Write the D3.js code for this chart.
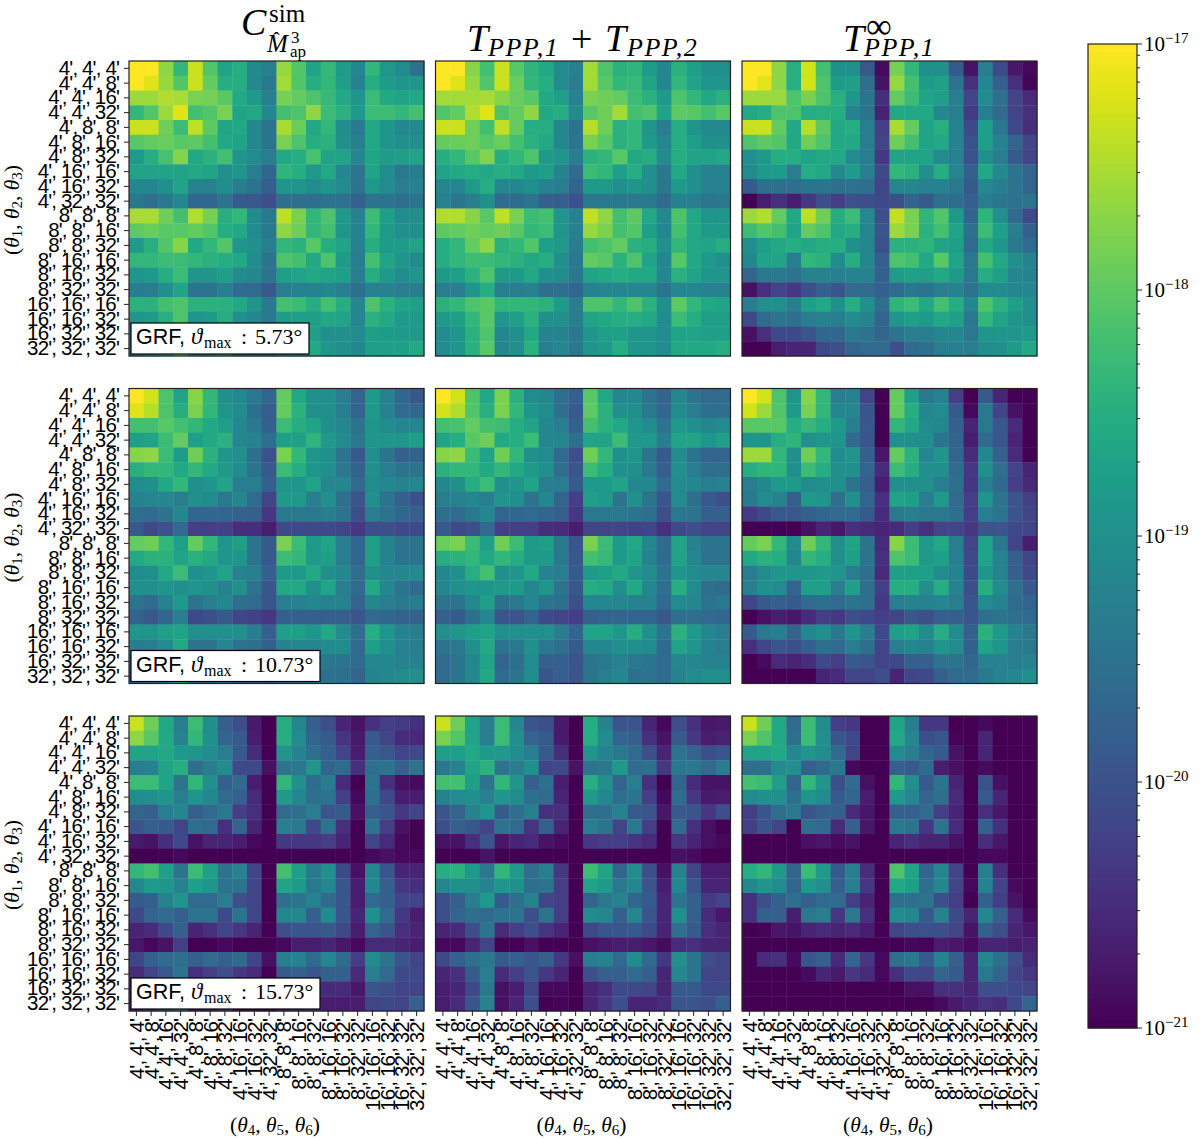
<!DOCTYPE html>
<html>
<head>
<meta charset="utf-8">
<script src="https://cdn.jsdelivr.net/npm/d3@7"></script>
<style>
  body { margin: 0; background: #fff; }
  svg { display: block; }
</style>
</head>
<body>
<svg id="chart" width="1200" height="1139"></svg>
<script>
const categories = ["4', 4', 4'", "4', 4', 8'", "4', 4', 16'", "4', 4', 32'", "4', 8', 8'", "4', 8', 16'", "4', 8', 32'",
  "4', 16', 16'", "4', 16', 32'", "4', 32', 32'", "8', 8', 8'", "8', 8', 16'", "8', 8', 32'", "8', 16', 16'", "8', 16', 32'",
  "8', 32', 32'", "16', 16', 16'", "16', 16', 32'", "16', 32', 32'", "32', 32', 32'"];

const thetaMax = ["5.73", "10.73", "15.73"];

// position of each cell between 1e-21 (0) and 1e-17 (100) on the log colour scale
const sim573 = [
[100,100,83,66,92,73,58,62,47,43,84,73,58,67,55,46,66,53,48,36],
[100,95,84,73,92,76,62,62,47,40,86,73,62,66,56,44,62,55,52,52],
[85,85,88,87,80,79,74,60,54,42,79,76,72,67,60,52,68,60,58,60],
[66,73,85,95,70,73,80,58,60,46,70,72,83,68,64,54,68,69,66,70],
[92,92,78,68,90,75,59,60,46,38,87,77,60,66,49,41,60,52,46,47],
[74,76,77,74,75,70,60,58,46,38,80,72,62,64,50,43,60,52,50,50],
[54,62,71,81,60,64,70,52,48,42,60,62,71,58,58,46,59,55,56,58],
[58,58,58,58,60,58,50,52,42,33,65,62,53,60,46,39,58,48,40,42],
[46,46,50,58,44,44,49,42,38,30,52,52,48,52,48,38,53,48,42,44],
[40,36,40,46,33,33,38,28,27,24,36,36,36,38,37,31,38,38,36,38],
[87,87,78,70,88,79,63,66,48,40,90,80,66,72,54,44,69,56,48,49],
[75,77,74,74,76,73,62,60,48,40,83,78,66,70,52,44,66,54,50,50],
[54,63,73,82,60,66,73,52,50,42,66,64,74,62,58,44,62,55,55,58],
[66,66,68,68,66,64,62,60,48,38,72,70,60,72,54,42,70,58,52,48],
[52,54,62,68,52,52,56,48,46,38,56,58,60,58,56,42,62,54,48,52],
[42,42,50,58,38,38,43,34,34,28,42,44,44,46,42,36,44,44,42,42],
[64,64,70,72,64,64,64,60,52,41,70,68,62,70,62,46,72,64,58,56],
[52,54,63,72,52,54,62,50,46,41,55,56,56,60,58,46,64,60,54,54],
[50,52,62,70,50,50,60,44,42,38,52,54,56,50,50,48,56,55,54,54],
[45,50,62,76,50,50,64,42,42,40,50,52,60,52,50,46,56,56,56,60]];

const ppp573 = [
[100,100,82,70,92,74,65,60,48,44,86,72,64,65,55,46,64,56,50,50],
[100,95,84,73,92,77,66,62,48,42,86,74,66,67,58,46,66,58,52,52],
[86,86,86,87,82,77,74,60,56,44,80,78,76,68,64,54,72,66,60,64],
[73,76,88,95,72,76,83,60,62,48,74,78,86,70,72,58,75,74,70,74],
[92,92,78,70,90,76,62,62,46,38,89,78,64,66,52,42,62,52,47,47],
[76,77,78,74,77,70,64,60,46,39,80,74,64,66,54,46,62,56,50,50],
[62,66,74,81,62,66,72,54,52,42,64,66,74,60,62,48,62,58,58,60],
[58,60,62,60,62,60,54,56,44,34,68,66,56,62,50,40,60,50,44,44],
[46,46,54,62,46,46,50,44,42,32,54,54,50,52,50,40,54,50,44,44],
[44,39,42,50,34,34,38,30,29,25,40,40,40,40,40,34,43,42,39,40],
[88,88,82,74,90,80,68,70,52,44,91,83,70,75,60,47,72,60,52,52],
[75,76,78,76,78,74,66,68,52,43,84,80,70,73,56,46,70,60,54,54],
[62,66,76,83,64,66,73,56,54,42,70,72,76,64,62,50,66,60,58,62],
[62,66,69,68,66,64,60,62,50,40,76,74,64,72,58,46,74,60,54,50],
[54,56,64,72,54,54,60,50,48,40,58,60,62,60,60,46,64,58,52,52],
[42,42,52,62,42,42,44,36,36,33,44,46,46,46,46,38,46,46,44,44],
[64,66,72,74,66,66,66,64,54,42,72,72,66,72,64,50,75,66,60,58],
[54,56,66,74,52,56,64,50,50,42,58,60,62,62,60,48,68,62,56,56],
[48,52,64,72,46,50,60,44,44,40,52,56,56,52,52,48,58,58,56,56],
[48,52,64,74,46,50,64,42,46,40,52,54,62,52,52,48,60,60,60,62]];

const inf573 = [
[100,100,83,63,93,70,50,50,27,3,79,66,50,50,28,5,42,22,6,2],
[100,96,83,63,93,72,55,56,36,5,84,70,55,57,38,14,46,30,14,1],
[85,85,85,72,80,72,63,52,38,13,76,68,58,56,42,20,48,36,20,12],
[60,62,72,72,62,63,62,44,38,9,60,60,60,46,42,17,42,34,20,14],
[92,92,76,60,89,75,60,62,42,18,87,76,58,63,44,22,56,40,22,13],
[72,75,73,60,78,72,60,60,42,20,78,70,58,60,44,25,56,44,32,21],
[50,54,62,62,58,60,60,48,42,16,58,58,58,48,44,25,50,42,28,20],
[48,54,55,42,62,60,47,55,42,22,66,64,50,62,45,30,60,47,38,32],
[28,36,36,36,38,38,36,37,36,20,45,46,44,44,40,28,47,42,38,32],
[0,8,14,8,16,24,18,25,24,22,24,32,28,36,35,30,42,39,38,38],
[85,88,76,60,90,78,62,68,47,24,91,80,65,73,54,32,65,50,34,22],
[68,73,70,58,76,72,60,62,45,26,85,80,64,70,58,36,68,56,42,30],
[50,56,60,62,60,62,62,50,46,25,64,64,65,58,56,34,60,53,40,34],
[46,58,58,42,66,64,48,62,46,30,72,70,60,74,58,40,70,60,50,44],
[32,40,40,38,44,44,43,44,44,30,55,57,56,60,54,40,62,56,46,44],
[4,14,20,16,24,30,26,34,34,30,34,40,38,42,44,38,48,48,46,46],
[42,50,50,42,56,60,50,62,50,36,65,68,60,70,62,46,72,64,56,50],
[22,34,38,36,42,44,42,48,44,32,52,56,54,60,56,40,66,58,52,50],
[4,14,22,22,26,33,33,40,38,32,38,42,42,46,46,40,52,52,52,54],
[0,0,8,10,10,22,24,32,34,34,24,34,36,42,43,42,48,50,54,60]];

const sim1073 = [
[100,93,72,58,82,66,50,47,40,33,76,60,50,50,42,32,54,44,33,27],
[95,89,72,62,80,66,52,48,36,29,76,64,50,50,42,32,54,44,34,33],
[70,70,74,70,66,60,56,46,40,30,68,62,58,50,46,38,52,48,46,46],
[56,58,68,76,56,60,64,46,44,36,56,57,65,54,48,40,52,52,52,56],
[82,83,68,55,78,64,52,50,36,25,80,66,52,50,38,27,50,38,30,31],
[63,66,66,60,66,60,54,48,38,28,68,62,52,50,40,31,50,42,38,38],
[48,50,60,66,50,52,58,42,42,30,52,52,58,46,46,34,48,46,44,46],
[44,46,46,42,50,48,40,46,34,20,54,54,42,50,36,26,50,38,30,25],
[36,34,38,46,33,33,33,31,30,16,40,40,40,42,38,24,42,38,33,30],
[28,22,25,34,18,18,19,13,13,8,22,22,22,22,20,16,24,24,22,22],
[76,78,66,56,76,66,52,56,38,28,80,68,54,58,42,33,56,44,38,38],
[60,64,64,58,64,60,52,52,38,28,68,66,54,56,42,33,56,44,38,38],
[48,50,60,68,50,52,58,44,42,30,54,54,60,50,46,36,50,46,46,48],
[50,50,52,50,52,50,44,50,38,26,60,60,50,58,42,34,60,46,38,34],
[38,34,44,54,38,42,46,36,34,26,42,44,46,44,44,32,46,42,40,42],
[31,27,33,42,22,24,28,20,19,16,30,30,30,30,30,26,34,33,31,31],
[52,52,56,58,50,50,50,50,42,30,56,56,52,60,48,36,62,52,44,42],
[42,42,48,60,38,38,46,38,36,30,44,46,46,48,48,34,56,50,44,42],
[38,38,46,58,36,38,44,32,30,28,38,40,42,40,38,34,46,46,44,44],
[30,36,44,58,32,34,42,28,30,28,36,38,42,36,36,32,44,46,48,50]];

const ppp1073 = [
[100,93,72,60,80,64,48,46,36,30,74,60,46,47,38,32,46,38,34,34],
[93,88,73,63,80,66,52,48,36,28,75,64,50,50,40,33,48,42,36,36],
[70,71,76,70,68,62,58,46,42,30,70,64,60,52,48,38,54,50,46,48],
[58,62,74,78,60,62,68,46,46,36,58,58,68,54,54,42,58,58,52,56],
[82,83,68,58,78,66,50,48,34,24,78,66,50,52,38,28,48,38,32,32],
[64,66,66,60,66,60,54,50,36,26,68,62,50,50,40,30,50,42,36,36],
[46,50,62,68,50,52,58,42,42,28,54,54,58,46,46,34,48,46,42,44],
[42,44,46,42,52,50,38,46,32,18,56,54,38,50,38,26,48,36,28,24],
[36,34,40,46,32,33,34,32,30,16,40,40,40,38,36,24,40,38,30,30],
[28,22,24,34,18,18,18,13,12,8,20,20,20,19,20,14,22,24,20,20],
[77,80,68,56,78,68,54,56,40,26,80,68,54,60,46,34,58,44,38,38],
[62,64,66,60,66,62,54,54,40,27,70,67,54,58,44,34,58,46,38,38],
[46,50,62,70,50,52,60,44,42,28,54,56,60,52,48,38,52,48,46,46],
[46,50,52,52,54,54,46,52,38,27,62,60,50,60,46,36,62,48,36,34],
[38,38,46,56,36,40,46,38,36,24,46,46,46,44,44,34,48,46,38,40],
[30,28,36,46,26,26,32,22,20,18,30,32,32,32,32,27,36,36,34,33],
[50,52,56,58,50,50,50,50,42,32,58,58,52,62,50,38,64,54,46,42],
[38,40,50,60,38,40,50,40,36,28,46,46,50,50,48,34,58,52,44,42],
[34,38,46,58,32,36,48,30,30,26,38,40,44,40,38,34,46,46,44,44],
[34,38,46,60,34,38,48,26,30,26,38,42,46,36,38,34,44,48,50,50]];

const inf1073 = [
[100,93,72,52,82,66,42,44,20,0,76,56,40,44,18,0,28,10,0,0],
[93,85,73,54,80,66,46,46,26,0,76,62,46,48,28,2,40,20,4,0],
[74,74,74,62,67,62,54,42,27,0,66,60,48,46,30,10,40,27,12,0],
[52,52,62,65,50,52,52,34,26,0,50,50,50,38,32,8,34,26,10,0],
[85,85,66,50,78,66,48,52,30,6,76,64,46,52,32,12,46,30,12,0],
[62,65,65,50,68,62,50,50,32,12,68,62,50,50,34,16,50,36,20,10],
[42,46,54,54,48,50,50,38,30,8,50,50,50,42,36,15,42,34,18,11],
[40,48,44,30,54,52,36,50,32,14,58,56,42,54,34,18,52,38,26,18],
[17,22,27,27,30,33,34,34,28,12,40,42,40,40,36,18,42,38,26,20],
[0,0,0,0,4,10,6,14,12,10,12,18,14,20,20,16,26,26,22,20],
[76,80,66,48,78,66,50,58,38,12,82,68,54,60,42,20,58,40,20,8],
[60,64,62,46,66,62,50,56,38,14,72,68,54,56,42,22,58,44,30,20],
[42,48,52,52,52,54,52,42,36,12,56,56,56,48,44,22,52,44,30,22],
[42,50,48,32,56,56,42,56,36,18,62,62,50,62,44,24,62,48,36,28],
[20,28,30,28,34,36,34,38,36,16,42,44,44,46,42,26,48,44,34,32],
[0,4,8,6,12,18,16,24,22,18,20,27,24,30,30,26,36,38,36,34],
[28,40,42,32,46,50,40,52,42,22,56,58,48,62,48,30,64,54,44,40],
[14,20,26,24,30,36,34,42,36,20,42,46,44,52,48,30,58,52,42,40],
[0,3,12,10,13,22,18,28,26,20,22,30,30,38,38,33,44,44,42,44],
[0,0,0,0,0,10,12,20,20,24,10,20,22,30,34,34,40,44,46,50]];

const sim1573 = [
[92,78,60,42,68,50,30,24,7,0,62,46,30,24,10,5,14,18,17,14],
[83,74,60,44,66,50,32,28,8,0,62,48,32,28,15,7,28,20,12,11],
[58,58,60,54,52,48,42,28,12,0,52,44,36,30,20,8,30,27,20,22],
[42,44,58,62,36,42,48,22,22,4,38,40,52,32,34,14,36,38,30,38],
[68,68,58,38,66,50,30,34,8,0,66,50,34,42,12,0,38,14,4,3],
[48,50,52,42,52,46,34,30,12,0,54,46,36,38,18,2,36,22,8,8],
[32,30,42,46,30,34,40,18,14,0,34,36,42,26,28,4,30,26,16,20],
[26,30,28,20,36,34,14,32,10,0,42,40,22,38,14,0,38,18,4,0],
[7,5,13,22,5,10,10,8,2,0,16,16,16,18,10,0,20,12,2,0],
[0,0,0,2,0,0,0,0,0,0,0,0,0,0,0,0,2,4,2,2],
[66,70,56,38,68,56,38,44,20,0,70,56,40,50,22,4,46,26,10,10],
[46,54,52,44,56,52,38,38,20,0,58,54,40,46,26,8,46,30,16,14],
[28,30,44,52,34,34,42,24,20,0,36,38,44,34,26,8,34,30,20,20],
[22,32,34,30,38,38,22,38,20,0,46,46,30,48,26,10,50,34,16,8],
[10,12,22,30,10,14,20,16,10,0,24,26,26,28,22,8,32,26,14,10],
[6,2,5,18,0,0,2,0,0,0,2,8,8,10,6,2,12,12,10,8],
[20,30,34,36,30,34,30,34,20,4,42,44,34,46,34,18,48,38,26,20],
[12,20,27,38,14,18,24,16,12,0,28,30,26,30,30,12,42,34,22,22],
[10,14,24,36,8,12,20,6,3,0,14,18,20,12,12,6,26,24,20,20],
[10,14,24,40,6,10,20,2,2,0,12,16,20,8,8,8,20,22,20,30]];

const ppp1573 = [
[92,78,58,42,68,46,26,24,7,0,62,44,26,26,10,2,24,14,6,7],
[80,73,58,42,68,50,32,28,7,0,62,48,32,30,14,5,28,16,8,9],
[56,56,60,54,54,48,42,28,13,0,52,44,40,34,24,10,38,32,24,26],
[40,44,58,64,38,42,50,20,22,5,38,40,54,34,36,16,40,40,34,42],
[70,70,56,38,66,52,30,36,8,0,62,50,32,42,14,0,32,12,5,5],
[44,48,50,44,52,48,36,34,10,0,54,46,36,38,18,2,34,16,7,8],
[26,32,44,52,28,36,42,14,14,0,36,36,44,28,26,6,28,26,16,24],
[24,30,27,20,38,34,15,30,10,0,42,38,20,40,18,0,34,14,4,0],
[5,5,14,26,6,10,12,5,3,0,16,18,18,15,12,0,16,10,4,2],
[0,0,0,5,0,0,0,0,0,0,0,0,0,0,0,0,4,3,0,0],
[62,64,54,40,66,54,36,42,16,0,68,58,32,48,24,4,44,20,8,8],
[46,50,50,44,52,50,36,38,18,0,58,54,40,46,26,8,46,26,10,10],
[24,30,42,54,28,36,44,20,18,0,32,40,44,32,28,10,38,30,17,20],
[24,32,36,34,38,38,24,38,18,0,48,46,30,46,26,10,50,30,12,6],
[10,12,24,38,12,18,24,15,10,0,22,26,26,28,22,10,36,28,14,10],
[2,2,10,20,0,0,4,0,0,0,4,6,8,8,6,3,12,14,10,10],
[22,30,36,40,28,30,26,30,16,4,42,44,34,48,34,16,50,38,24,20],
[10,14,28,42,12,18,26,16,10,0,24,30,30,34,30,10,46,38,20,20],
[8,10,22,40,4,8,20,2,2,0,10,14,22,22,20,10,28,28,22,22],
[8,12,26,44,4,10,24,0,1,0,10,16,24,10,10,12,26,26,24,30]];

const inf1573 = [
[92,78,60,34,68,48,18,16,0,0,58,42,16,16,0,0,2,0,0,0],
[80,72,60,36,68,50,26,22,0,0,60,46,24,26,1,0,10,0,0,0],
[58,58,60,46,52,48,34,20,0,0,48,42,32,28,5,0,10,0,0,0],
[36,36,48,50,30,34,40,2,0,0,30,28,34,8,4,0,3,0,0,0],
[70,68,56,32,66,52,24,34,4,0,66,50,28,38,10,0,25,4,0,0],
[48,50,50,36,52,48,28,32,8,0,54,46,32,36,12,0,28,10,0,0],
[18,26,36,40,26,30,30,12,6,0,30,30,34,18,10,0,14,6,0,0],
[18,26,20,0,36,34,12,30,6,0,40,38,16,38,12,0,30,14,0,0],
[0,0,0,0,4,6,3,5,0,0,10,14,10,10,5,0,13,6,0,0],
[0,0,0,0,0,0,0,0,0,0,0,0,0,0,0,0,2,2,0,0],
[62,66,54,32,68,54,28,42,13,0,72,58,32,46,20,0,42,14,0,0],
[46,52,48,32,54,50,30,42,16,0,60,56,36,46,20,2,44,20,3,0],
[14,24,30,36,30,34,34,18,10,0,36,36,38,24,18,0,30,18,5,0],
[14,30,30,8,40,42,16,40,14,0,48,46,28,44,22,10,46,30,12,3],
[0,1,6,5,10,12,10,12,8,0,20,24,25,24,20,5,30,24,10,6],
[0,0,0,0,0,0,0,0,0,0,0,2,1,8,6,3,10,10,8,9],
[0,12,14,3,26,30,12,32,16,2,36,40,28,44,30,10,46,36,24,12],
[0,0,0,0,3,10,7,16,12,2,14,22,20,32,28,10,40,32,20,16],
[0,0,0,0,0,0,0,0,0,0,0,4,4,14,14,10,24,24,22,20],
[0,0,0,0,0,0,0,0,0,0,0,0,0,3,7,10,15,13,22,32]];

const grid = [[sim573, ppp573, inf573], [sim1073, ppp1073, inf1073], [sim1573, ppp1573, inf1573]];

const panelLeft = [129, 435.5, 742];
const panelTop = [61, 388.5, 716];
const panelSize = 295;
const dark = "#222";
const serif = "'Liberation Serif', serif";
const sans = "'Liberation Sans', sans-serif";

const svg = d3.select("#chart");

// colour goes through a log scale like LogNorm(1e-21, 1e-17)
const norm = d3.scaleLog().domain([1e-21, 1e-17]).range([0, 1]).clamp(true);
const colour = v => d3.interpolateViridis(norm(v));
const toValue = p => 1e-21 * Math.pow(10, p * 0.04);

const band = d3.scaleBand().domain(categories).range([0, panelSize]);

// text made of pieces with their own position, size and style
function mathText(parent, pieces) {
  parent.selectAll(null).data(pieces).enter().append("text")
    .attr("x", d => d.x)
    .attr("y", d => d.y)
    .attr("font-size", d => d.size)
    .attr("font-family", d => d.font || serif)
    .attr("font-style", d => d.italic ? "italic" : "normal")
    .attr("letter-spacing", d => d.spacing || 0)
    .attr("fill", "#000")
    .text(d => d.t);
}

// (θa, θb, θc) label with subscripts
function thetaLabel(a, b, c) {
  const part = n => `<tspan font-style="italic">θ</tspan><tspan font-size="15" dy="3">${n}</tspan>`;
  return `(${part(a)}<tspan dy="-3">, </tspan>${part(b)}<tspan dy="-3">, </tspan>${part(c)}<tspan dy="-3">)</tspan>`;
}

grid.forEach((rowPanels, r) => {
  rowPanels.forEach((matrix, c) => {
    const g = svg.append("g").attr("transform", `translate(${panelLeft[c]},${panelTop[r]})`);

    g.selectAll("g.row").data(matrix).enter().append("g")
      .attr("class", "row")
      .attr("transform", (d, i) => `translate(0,${band(categories[i])})`)
      .selectAll("rect").data(d => d).enter().append("rect")
      .attr("x", (d, j) => band(categories[j]))
      .attr("width", band.bandwidth() + 0.4)
      .attr("height", band.bandwidth() + 0.4)
      .attr("fill", d => colour(toValue(d)));

    g.append("rect")
      .attr("width", panelSize).attr("height", panelSize)
      .attr("fill", "none").attr("stroke", dark).attr("stroke-width", 1.2);

    if (c === 0) {
      const yAxis = g.append("g").call(d3.axisLeft(band).tickSize(5).tickPadding(5));
      yAxis.select(".domain").remove();
      yAxis.selectAll("line").attr("stroke", dark);
      yAxis.selectAll("text")
        .attr("font-family", sans).attr("font-size", 20.5).attr("letter-spacing", -0.85)
        .attr("fill", "#000");

      svg.append("text")
        .attr("transform", `translate(19,${panelTop[r] + 149}) rotate(-90)`)
        .attr("text-anchor", "middle")
        .attr("font-family", serif).attr("font-size", 21.5)
        .html(thetaLabel(1, 2, 3));
    }

    if (r === 2) {
      const xAxis = g.append("g").attr("transform", `translate(0,${panelSize})`)
        .call(d3.axisBottom(band).tickSize(5).tickPadding(5));
      xAxis.select(".domain").remove();
      xAxis.selectAll("line").attr("stroke", dark);
      xAxis.selectAll("text")
        .attr("font-family", sans).attr("font-size", 20.5).attr("letter-spacing", -0.85)
        .attr("fill", "#000")
        .attr("text-anchor", "end")
        .attr("transform", "rotate(-90)")
        .attr("x", -8).attr("y", 0).attr("dy", "0.36em");

      svg.append("text")
        .attr("x", panelLeft[c] + 146).attr("y", 1132)
        .attr("text-anchor", "middle")
        .attr("font-family", serif).attr("font-size", 21.5)
        .html(thetaLabel(4, 5, 6));
    }

    // legend box only in the first column
    if (c === 0) {
      const boxW = r === 0 ? 178 : 189;
      const boxBottom = panelTop[r] + panelSize - 2;
      const base = boxBottom - 10;
      svg.append("rect")
        .attr("x", 131).attr("y", boxBottom - 31).attr("width", boxW).attr("height", 31)
        .attr("fill", "#fff").attr("stroke", "#000").attr("stroke-width", 1.2);
      mathText(svg, [
        { t: "GRF,", x: 136, y: base, size: 21.5, font: sans },
        { t: "ϑ", x: 191, y: base, size: 23, italic: true },
        { t: "max", x: 204, y: base + 4, size: 16 },
        { t: ":", x: 241, y: base, size: 22 },
        { t: thetaMax[r] + "°", x: 255, y: base, size: 22 }
      ]);
    }
  });
});

// column titles
mathText(svg, [
  { t: "C", x: 241, y: 35, size: 38, italic: true },
  { t: "sim", x: 269, y: 22, size: 25 },
  { t: "M", x: 267, y: 52, size: 25, italic: true },
  { t: "ˆ", x: 273, y: 47, size: 20 },
  { t: "3", x: 291, y: 43, size: 17 },
  { t: "ap", x: 290, y: 57, size: 17 },
  { t: "T", x: 467, y: 51, size: 38, italic: true },
  { t: "PPP,1", x: 488, y: 56, size: 26, italic: true, spacing: 1.5 },
  { t: "+", x: 571, y: 52, size: 38 },
  { t: "T", x: 605, y: 51, size: 38, italic: true },
  { t: "PPP,2", x: 627, y: 56, size: 26, italic: true, spacing: 1.5 },
  { t: "T", x: 843, y: 51, size: 38, italic: true },
  { t: "∞", x: 866, y: 38, size: 36 },
  { t: "PPP,1", x: 864, y: 56, size: 26, italic: true, spacing: 1.5 }
]);

// colour bar
const barLeft = 1088, barWidth = 49, barTop = 44, barBottom = 1028;
const barScale = d3.scaleLog().domain([1e-21, 1e-17]).range([barBottom, barTop]);
const bar = svg.append("g");
const barSteps = d3.range(barTop, barBottom, 2);
bar.selectAll("rect").data(barSteps).enter().append("rect")
  .attr("x", barLeft).attr("y", d => d).attr("width", barWidth).attr("height", 2.5)
  .attr("fill", d => colour(barScale.invert(d + 1)));
bar.append("rect")
  .attr("x", barLeft).attr("y", barTop).attr("width", barWidth).attr("height", barBottom - barTop)
  .attr("fill", "none").attr("stroke", dark).attr("stroke-width", 1.2);

const decades = [1e-17, 1e-18, 1e-19, 1e-20, 1e-21];
const decadeLabels = ["17", "18", "19", "20", "21"];
const minorTicks = barScale.ticks().filter(v => !decades.some(d => Math.abs(v / d - 1) < 1e-6));

const barAxis = svg.append("g").attr("transform", `translate(${barLeft + barWidth},0)`);
barAxis.selectAll("line.minor").data(minorTicks).enter().append("line")
  .attr("class", "minor")
  .attr("x2", 3).attr("y1", barScale).attr("y2", barScale)
  .attr("stroke", dark);
barAxis.selectAll("line.major").data(decades).enter().append("line")
  .attr("class", "major")
  .attr("x2", 5).attr("y1", barScale).attr("y2", barScale)
  .attr("stroke", dark);

decades.forEach((d, i) => {
  const y = barScale(d) + 7;
  mathText(svg, [
    { t: "10", x: 1144, y: y, size: 21 },
    { t: "−" + decadeLabels[i], x: 1165, y: y - 8, size: 15 }
  ]);
});
</script>
</body>
</html>
